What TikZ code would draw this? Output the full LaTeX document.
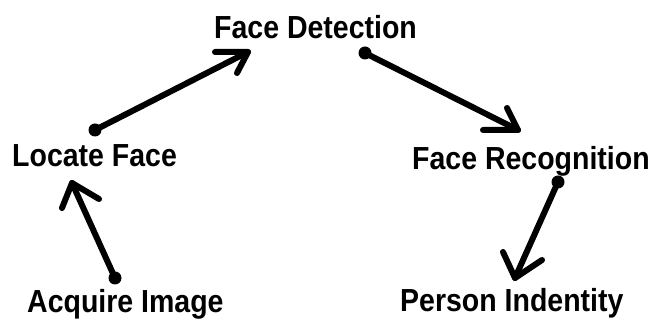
\documentclass[tikz,border=0pt]{standalone}
\usepackage{fontspec}
\setmainfont{Liberation Sans}
\newcommand{\tall}[1]{\scalebox{1}[1.12]{#1}}
\begin{document}
\begin{tikzpicture}[x=1pt,y=-1pt,
  label/.style={anchor=base west,inner sep=0pt,font=\bfseries\fontsize{28.5}{30}\selectfont},
  conn/.style={line width=6pt,line cap=round,line join=round},
  barb/.style={line width=6pt,line cap=round,line join=round}]
\useasboundingbox[fill=white] (0,0) rectangle (649,320);

% stage labels
\node[label] (detect) at (214,39) {\tall{Face Detection}};
\node[label] (locate) at (12,167) {\tall{Locate Face}};
\node[label] (recog)  at (412,170) {\tall{Face Recognition}};
\node[label] (acquire) at (27,312.5) {\tall{Acquire Image}};
\node[label] (person) at (400,312) {\tall{Person Indentity}};

% arrow start and tip points
\coordinate (s1) at (95,130);  \coordinate (t1) at (248,52);
\coordinate (a1) at (215,52);  \coordinate (c1) at (237,73);
\coordinate (s2) at (365,53);  \coordinate (t2) at (518,130);
\coordinate (a2) at (483,130); \coordinate (c2) at (507,108);
\coordinate (s3) at (558,182); \coordinate (t3) at (515,278);
\coordinate (a3) at (503,252); \coordinate (c3) at (542,260);
\coordinate (s4) at (115,278); \coordinate (t4) at (72,183);
\coordinate (a4) at (62,208);  \coordinate (c4) at (99,199);

% hand-drawn style connectors with a dot at the tail
\foreach \i in {1,2,3,4}{
  \draw[conn] (s\i) -- (t\i);
  \draw[barb] (a\i) -- (t\i) -- (c\i);
  \fill (s\i) circle (6.5);
}
\end{tikzpicture}
\end{document}
